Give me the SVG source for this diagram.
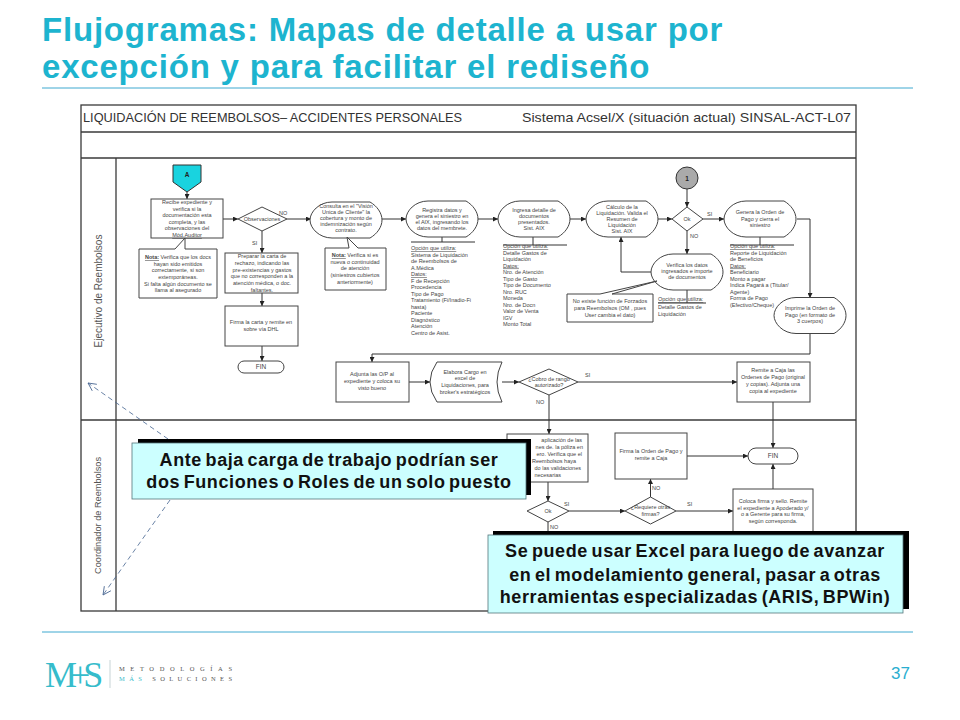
<svg xmlns="http://www.w3.org/2000/svg" xmlns:xlink="http://www.w3.org/1999/xlink" width="960" height="720" viewBox="0 0 960 720">
<style>
text{font-family:"Liberation Sans",Arial,sans-serif}
.title{font-size:33px;font-weight:bold;fill:#1db4cf;letter-spacing:.8px}
.rule{stroke:#3fa9d0;stroke-width:1}
.frame{fill:none;stroke:#3a3a3a;stroke-width:1.3}
.head{font-size:13px;fill:#333}
.lane{fill:#555;text-anchor:middle}
.s{fill:#fff;stroke:#444;stroke-width:1}
.t{font-size:5.5px;fill:#444;text-anchor:middle}
.l{font-size:5.5px;fill:#444}
.lb{font-size:5.5px;fill:#444}
.u{text-decoration:underline}
.c{fill:none;stroke:#333;stroke-width:1;marker-end:url(#ah)}
.n{fill:none;stroke:#333;stroke-width:1}
.dash{fill:none;stroke:#44638f;stroke-width:.8;stroke-dasharray:5 3.5}
.call{fill:#ccffff;stroke:#55757a;stroke-width:.8}
.ct{font-size:18px;font-weight:bold;fill:#111;text-anchor:middle;letter-spacing:.6px;word-spacing:-2px}
</style>
<defs>
<marker id="ah" markerUnits="userSpaceOnUse" markerWidth="5" markerHeight="5" refX="5" refY="2.5" orient="auto"><path d="M0,0 L5,2.5 L0,5 Z" fill="#222"/></marker>
<marker id="oa" markerUnits="userSpaceOnUse" markerWidth="10" markerHeight="10" refX="9" refY="5" orient="auto"><path d="M1,1 L9,5 L1,9" fill="none" stroke="#44638f" stroke-width=".8"/></marker>
<path id="disp" d="M22,0 L60,0 C67,4 72,11 72,18 C72,25 67,32 60,36 L22,36 C9,36 0,26 0,18 C0,10 9,0 22,0 Z"/>
</defs>
<rect width="960" height="720" fill="#fff"/>
<g id="header">
<text class="title" x="42" y="41">Flujogramas: Mapas de detalle a usar por</text>
<text class="title" x="42" y="78">excepción y para facilitar el rediseño</text>
<line class="rule" x1="42" y1="88" x2="913" y2="88"/>
</g>
<g id="frame">
<rect class="frame" x="81" y="105" width="775" height="506"/>
<line class="frame" x1="81" y1="132" x2="856" y2="132"/>
<line class="frame" x1="81" y1="158" x2="856" y2="158"/>
<line class="frame" x1="116" y1="158" x2="116" y2="611"/>
<line class="frame" x1="81" y1="420" x2="856" y2="420"/>
<text class="head" x="83" y="122" textLength="379" lengthAdjust="spacingAndGlyphs">LIQUIDACIÓN DE REEMBOLSOS–  ACCIDENTES PERSONALES</text>
<text class="head" x="522" y="122" textLength="329" lengthAdjust="spacingAndGlyphs">Sistema Acsel/X (situación actual) SINSAL-ACT-L07</text>
<text class="lane" font-size="10" transform="translate(102,291) rotate(-90)">Ejecutivo de Reembolsos</text>
<text class="lane" font-size="9.200" transform="translate(101,515.500) rotate(-90)">Coordinador de Reembolsos</text>
</g>
<g id="connectors">
<path class="c" d="M187,192V199"/>
<path class="c" d="M223,219H238"/>
<path class="c" d="M287,219H311"/>
<path class="c" d="M262,231V253"/>
<path class="c" d="M262,293V306"/>
<path class="c" d="M262,346V361"/>
<path class="c" d="M382,219H406"/>
<path class="c" d="M478,219H498"/>
<path class="c" d="M569,219H586"/>
<path class="c" d="M657,219H672"/>
<path class="c" d="M687,189V207"/>
<path class="c" d="M703,219H724"/>
<path class="c" d="M687,231V254"/>
<path class="c" d="M651,272H621V237"/>
<path class="c" d="M797,219H810V298"/>
<path class="c" d="M810,333V354H372V362"/>
<path class="c" d="M409,382H430"/>
<path class="c" d="M502,382H519"/>
<path class="c" d="M578,382H737"/>
<path class="c" d="M549,395V434"/>
<path class="c" d="M773,402V448"/>
<path class="c" d="M548,482V501"/>
<path class="c" d="M569,511H625"/>
<path class="c" d="M650.500,497V479"/>
<path class="c" d="M676,511H733"/>
<path class="c" d="M687,456H748"/>
<path class="c" d="M773,489V464"/>
<path class="n" d="M548,522V531"/>
<path class="n" d="M442,237V242M411,242H475"/>
<path class="n" d="M533,237V245M503,245H567"/>
<path class="n" d="M760,237V245M730,245H794"/>
<path class="n" d="M687,289V303M658,303H706"/>
<path class="dash" style="marker-end:url(#oa)" d="M168,439L88,383"/>
<path class="dash" style="marker-end:url(#oa)" d="M170,500L103,595"/>
</g>
<g id="node-a"><path d="M173,165H201V182L187,192L173,182Z" fill="#19d3df" stroke="#333"/><text x="187" y="177" font-size="6.500" font-weight="bold" fill="#222" text-anchor="middle">A</text></g>
<g id="node-recibe"><rect class="s" x="151" y="199" width="72" height="39"/>
<text class="t" x="187" y="204">Recibe expediente y</text><text class="t" x="187" y="210.500">verifica si la</text><text class="t" x="187" y="217">documentación  esta</text><text class="t" x="187" y="223.700">completa, y las</text><text class="t" x="187" y="230.300">observaciones del</text><text class="t u" x="187" y="237">Mód.Auditor</text></g>
<g id="node-obs"><path class="s" d="M238,219L262,207L287,219L262,231Z"/><text class="t" x="262" y="221">Observaciones</text><text class="lb" x="279" y="215">NO</text><text class="lb" x="252" y="245">SI</text></g>
<g id="node-consulta"><use xlink:href="#disp" href="#disp" class="s" x="310" y="202"/>
<text class="t" x="346" y="208">Consulta en el "Visión</text><text class="t" x="346" y="214">Unica de Cliente" la</text><text class="t" x="346" y="220">cobertura y monto de</text><text class="t" x="346" y="226">indemnización según</text><text class="t" x="346" y="232">contrato.</text></g>
<g id="node-nota1"><path class="s" d="M139,249H175L185,238V249H217V298H139Z"/>
<text class="t" x="178" y="259"><tspan class="u" font-weight="bold">Nota:</tspan> Verifica que los docs</text><text class="t" x="178" y="265.500">hayan sido emitidos</text><text class="t" x="178" y="272">correctamente, si son</text><text class="t" x="178" y="279">extemporáneas.</text><text class="t" x="178" y="285.500">Si falta algún documento se</text><text class="t" x="178" y="292">llama al asegurado</text></g>
<g id="node-preparar"><rect class="s" x="225" y="253" width="73" height="40"/>
<text class="t" x="262" y="258">Preparar la carta de</text><text class="t" x="262" y="265">rechazo, indicando las</text><text class="t" x="262" y="271.500">pre-existencias y gastos</text><text class="t" x="262" y="278">que no corresponden a la</text><text class="t" x="262" y="285">atención médica, o doc.</text><text class="t" x="262" y="292">faltantes.</text></g>
<g id="node-firma"><rect class="s" x="225" y="306" width="73" height="40"/><text class="t" x="261" y="324">Firma la carta y remite en</text><text class="t" x="261" y="331">sobre vía DHL</text></g>
<g id="node-fin1"><rect class="s" x="238" y="361" width="46" height="12" rx="6"/><text class="t" x="261" y="368.500" style="font-size:6.500px">FIN</text></g>
<g id="node-nota2"><path class="s" d="M325,248H349L347,237L358,248H386V290H325Z"/>
<text class="t" x="355" y="257"><tspan class="u" font-weight="bold">Nota:</tspan> Verifica si es</text><text class="t" x="355" y="263.500">nueva o continuidad</text><text class="t" x="355" y="270">de atención</text><text class="t" x="355" y="277">(siniestros cubiertos</text><text class="t" x="355" y="284">anteriormente)</text></g>
<g id="node-registra"><use xlink:href="#disp" href="#disp" class="s" x="406" y="201"/>
<text class="t" x="442" y="212">Registra datos y</text><text class="t" x="442" y="218">genera el siniestro en</text><text class="t" x="442" y="224">el AIX, ingresando los</text><text class="t" x="442" y="230">datos del membrete.</text></g>
<g id="node-registra-datos">
<text class="l u" x="411" y="250">Opción que utiliza:</text><text class="l" x="411" y="256.500">Sistema de Liquidación</text><text class="l" x="411" y="263">de Reembolsos de</text><text class="l" x="411" y="269.500">A.Médica</text><text class="l u" x="411" y="276">Datos:</text><text class="l" x="411" y="282.500">F de Recepción</text><text class="l" x="411" y="289">Procedencia</text><text class="l" x="411" y="295.500">Tipo de Pago</text><text class="l" x="411" y="302">Tratamiento (Fi/Inadio-Fi</text><text class="l" x="411" y="308.500">hasta)</text><text class="l" x="411" y="315">Paciente</text><text class="l" x="411" y="321.500">Diagnóstico</text><text class="l" x="411" y="328">Atención</text><text class="l" x="411" y="335">Centro de Asist.</text></g>
<g id="node-ingresa"><use xlink:href="#disp" href="#disp" class="s" x="498" y="201"/>
<text class="t" x="534" y="212">Ingresa detalle de</text><text class="t" x="534" y="218">documentos</text><text class="t" x="534" y="224">presentados.</text><text class="t" x="534" y="230">Sist. AIX</text></g>
<g id="node-ingresa-datos">
<text class="l u" x="503" y="248">Opción que utiliza:</text><text class="l" x="503" y="254.500">Detalle Gastos de</text><text class="l" x="503" y="261">Liquidación</text><text class="l u" x="503" y="267.500">Datos:</text><text class="l" x="503" y="274">Nro. de Atención</text><text class="l" x="503" y="280.500">Tipo de Gasto</text><text class="l" x="503" y="287">Tipo de Documento</text><text class="l" x="503" y="293.500">Nro. RUC</text><text class="l" x="503" y="300">Moneda</text><text class="l" x="503" y="306.500">Nro. de Docn</text><text class="l" x="503" y="313">Valor de Venta</text><text class="l" x="503" y="319.500">IGV</text><text class="l" x="503" y="326">Monto Total</text></g>
<g id="node-calculo"><use xlink:href="#disp" href="#disp" class="s" x="586" y="201"/>
<text class="t" x="622" y="208.500">Cálculo de la</text><text class="t" x="622" y="214.500">Liquidación. Valida el</text><text class="t" x="622" y="220.500">Resumen de</text><text class="t" x="622" y="226.500">Liquidación</text><text class="t" x="622" y="232.500">Sist. AIX</text></g>
<g id="node-circulo"><circle cx="687" cy="178" r="11" fill="#aaa" stroke="#333" stroke-width="1"/><text x="687" y="180.500" font-size="6.500" font-weight="bold" fill="#222" text-anchor="middle">1</text></g>
<g id="node-ok"><path class="s" d="M672,219L687,207L703,219L687,231Z"/><text class="t" x="687" y="221">Ok</text><text class="lb" x="707" y="216">SI</text><text class="lb" x="690" y="238">NO</text></g>
<g id="node-genera"><use xlink:href="#disp" href="#disp" class="s" x="724" y="201"/>
<text class="t" x="760" y="214">Genera la Orden de</text><text class="t" x="760" y="220.500">Pago y cierra el</text><text class="t" x="760" y="227">siniestro</text></g>
<g id="node-genera-datos">
<text class="l u" x="730" y="248">Opción que utiliza:</text><text class="l" x="730" y="254.500">Reporte de Liquidación</text><text class="l" x="730" y="261">de Beneficios</text><text class="l u" x="730" y="267.500">Datos:</text><text class="l" x="730" y="274">Beneficiario</text><text class="l" x="730" y="280.500">Monto a pagar</text><text class="l" x="730" y="287">Indica Pagará a (Titular/</text><text class="l" x="730" y="293.500">Agente)</text><text class="l" x="730" y="300">Forma de Pago</text><text class="l" x="730" y="306.500">(Efectivo/Cheque)</text></g>
<g id="node-verifica"><use xlink:href="#disp" href="#disp" class="s" x="651" y="254"/>
<text class="t" x="687" y="267">Verifica los datos</text><text class="t" x="687" y="273">ingresados e importe</text><text class="t" x="687" y="279">de documentos</text></g>
<g id="node-verifica-datos"><text class="l u" x="658" y="301">Opción que utiliza:</text><text class="l" x="658" y="309">Detalle Gastos de</text><text class="l" x="658" y="315.500">Liquidación</text></g>
<g id="node-noexiste"><path class="s" d="M567,294H600L657,281L612,294H653V322H567Z"/>
<text class="t" x="610" y="302.500">No existe función de Forzados</text><text class="t" x="610" y="309.500">para Reembolsos (OM , pues</text><text class="t" x="610" y="316.500">User cambia el dato)</text></g>
<g id="node-imprime"><use xlink:href="#disp" href="#disp" class="s" x="774" y="297.500"/>
<text class="t" x="810" y="310">Imprime la Orden de</text><text class="t" x="810" y="316.500">Pago (en formato de</text><text class="t" x="810" y="323">3 cuerpos)</text></g>
<g id="node-adjunta"><rect class="s" x="336" y="362" width="73" height="40"/>
<text class="t" x="372" y="376">Adjunta las O/P  al</text><text class="t" x="372" y="383">expediente y coloca su</text><text class="t" x="372" y="390">visto bueno</text></g>
<g id="node-elabora"><path class="s" d="M437,362H502Q492,382 502,402H437Q423,382 437,362Z"/>
<text class="t" x="465" y="373.500">Elabora Cargo en</text><text class="t" x="465" y="380">excel de</text><text class="t" x="465" y="387">Liquidaciones, para</text><text class="t" x="465" y="393.500">broker's estratégicos</text></g>
<g id="node-cobro"><path class="s" d="M519,382L549,369L578,382L549,395Z"/><text class="t" x="549" y="381">¿Cobro de rango</text><text class="t" x="549" y="387">autorizado?</text><text class="lb" x="585" y="377">SI</text><text class="lb" x="536" y="404">NO</text></g>
<g id="node-remite"><rect class="s" x="737" y="362" width="73" height="40"/>
<text class="t" x="773" y="372">Remite a Caja las</text><text class="t" x="773" y="379">Ordenes de Pago (original</text><text class="t" x="773" y="386">y copias). Adjunta una</text><text class="t" x="773" y="393">copia al expediente</text></g>
<g id="node-aplicacion"><rect class="s" x="507" y="434" width="81" height="48"/>
<text class="l" text-anchor="end" x="582" y="442">aplicación de las</text><text class="l" text-anchor="end" x="583" y="449">nes de. la póliza en</text><text class="l" text-anchor="end" x="582" y="456">ero. Verifica que el</text><text class="l" text-anchor="end" x="576" y="463">Reembolsos haya</text><text class="l" text-anchor="end" x="581" y="470">do las validaciones</text><text class="l" text-anchor="end" x="561" y="477">necesarias</text></g>
<g id="node-firmaop"><rect class="s" x="615" y="433" width="72" height="46"/><text class="t" x="651" y="453">Firma la Orden de Pago y</text><text class="t" x="651" y="460">remite a Caja</text></g>
<g id="node-fin2"><rect class="s" x="748" y="448" width="50" height="16" rx="8"/><text class="t" x="773" y="458" style="font-size:6.500px">FIN</text></g>
<g id="node-ok2"><path class="s" d="M527,511L548,501L569,511L548,522Z"/><text class="t" x="548" y="513">Ok</text><text class="lb" x="564" y="506">SI</text><text class="lb" x="550" y="529">NO</text></g>
<g id="node-requiere"><path class="s" d="M625,511L650.500,497L676,511L650.500,524Z"/><text class="t" x="650.500" y="509">¿Requiere otras</text><text class="t" x="650.500" y="515.500">firmas?</text><text class="lb" x="687" y="506">SI</text><text class="lb" x="652" y="490">NO</text></g>
<g id="node-coloca"><rect class="s" x="733" y="489" width="80" height="50"/>
<text class="t" x="773" y="503">Coloca firma y sello. Remite</text><text class="t" x="773" y="509.500">el expediente a Apoderado y/</text><text class="t" x="773" y="516">o a Gerente para su firma,</text><text class="t" x="773" y="523">según corresponda.</text></g>
<g id="callout-1"><rect x="138" y="439" width="393" height="56" fill="#000"/><rect class="call" x="132" y="443" width="394" height="56"/>
<text class="ct" x="329" y="466">Ante baja carga de trabajo podrían ser</text><text class="ct" x="329" y="488">dos Funciones o Roles de un solo puesto</text></g>
<g id="callout-2"><rect x="493" y="531" width="416" height="78" fill="#000"/><rect class="call" x="488" y="535" width="415" height="78"/>
<text class="ct" x="695" y="557">Se puede usar Excel para luego de avanzar</text><text class="ct" x="695" y="581">en el modelamiento general, pasar a otras</text><text class="ct" x="695" y="603">herramientas especializadas (ARIS, BPWin)</text></g>
<g id="footer">
<line class="rule" x1="42" y1="632" x2="913" y2="632"/>
<text x="45" y="687" font-size="36" letter-spacing="-7" style="font-family:'Liberation Serif',serif" fill="#36bccb">M+S</text>
<line x1="110" y1="660" x2="110" y2="688" stroke="#b9c9cc" stroke-width=".8"/>
<text x="119" y="671" font-size="6.500" fill="#555" textLength="113" style="font-family:'Liberation Serif',serif">METODOLOGÍAS</text>
<text x="119" y="681" font-size="6.500" fill="#555" textLength="113" style="font-family:'Liberation Serif',serif"><tspan fill="#36bccb">MÁS</tspan> SOLUCIONES</text>
<text x="910" y="679" font-size="17" fill="#2aaed0" text-anchor="end">37</text>
</g>
</svg>
